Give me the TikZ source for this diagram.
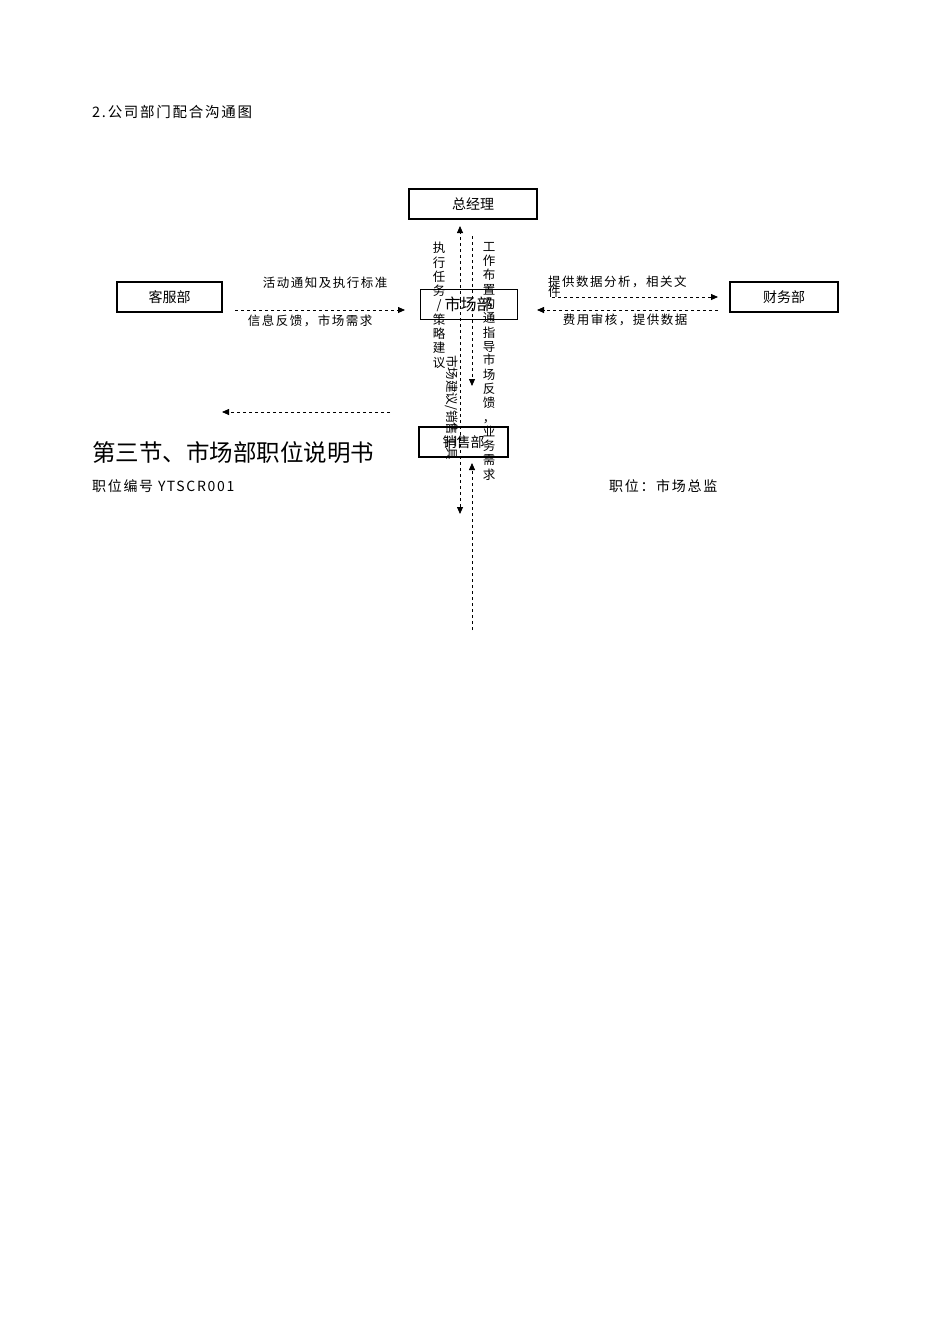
\documentclass[tikz,border=0pt]{standalone}
\usepackage{fontspec}
\setmainfont{Noto Sans CJK SC}
\newfontfamily\spaced[LetterSpace=12]{Noto Sans CJK SC}
\usetikzlibrary{arrows.meta}
\begin{document}
\begin{tikzpicture}[x=1pt,y=-1pt,
  dept/.style={draw,line width=1.5pt,minimum height=30pt,font=\fontsize{14}{14}\selectfont,inner sep=0pt},
  lab/.style={font=\spaced\fontsize{12.5}{12.5}\selectfont,inner sep=0pt},
  vlab/.style={font=\fontsize{12.5}{14.3}\selectfont,inner sep=0pt,align=center},
  dar/.style={dashed,line width=0.8pt,-{Triangle[length=7pt,width=6pt]}}]
\useasboundingbox (0,0) rectangle (950,1344);
\node[anchor=west,font=\spaced\fontsize{14.5}{14.5}\selectfont,inner sep=0pt] (t) at (92,112) {2.公司部门配合沟通图};
\node[dept,minimum width=128pt] (gm) at (473,204) {总经理};
\node[dept,minimum width=105pt] (kf) at (169.5,297) {客服部};
\node[dept,minimum width=97pt,line width=1pt,font=\fontsize{16}{16}\selectfont] (sc) at (468.5,304.5) {市场部};
\node[dept,minimum width=108pt] (cw) at (784,297) {财务部};
\node[dept,minimum width=89pt] (xs) at (463.5,442) {销售部};
\coordinate (a1) at (235,310); \coordinate (a2) at (405,310);
\draw[dar] (a1) -- (a2);
\node[lab] at (325,283) {活动通知及执行标准};
\node[lab] at (310,321) {信息反馈，市场需求};
\coordinate (b1) at (552,297); \coordinate (b2) at (718,297);
\draw[dar] (b1) -- (b2);
\coordinate (c1) at (718,310); \coordinate (c2) at (537,310);
\draw[dar] (c1) -- (c2);
\node[lab,anchor=north west,align=left] at (548,276) {提供数据分析，相关文\\[-3pt]件};
\node[lab] at (625,320) {费用审核，提供数据};
\coordinate (v0) at (460,300); \coordinate (v2) at (460,226); \coordinate (v3) at (460,514);
\draw[dar] (v0) -- (v2);
\draw[dar] (v0) -- (v3);
\coordinate (w1) at (472,236); \coordinate (w2) at (472,386);
\draw[dar] (w1) -- (w2);
\coordinate (w3) at (472,630); \coordinate (w4) at (472,463);
\draw[dar] (w3) -- (w4);
\coordinate (l1) at (390,412); \coordinate (l2) at (222,412);
\draw[dar] (l1) -- (l2);
\node[vlab,anchor=north] at (439,242) {执\\行\\任\\务\\/\\策\\略\\建\\议};
\node[vlab,anchor=north] at (489,242) {工\\作\\布\\置\\沟\\通\\指\\导};
\node[vlab,anchor=north] at (489,354) {市\\场\\反\\馈\\，\\业\\务\\需\\求};
\node[font=\fontsize{12.5}{12.5}\selectfont,inner sep=0pt,rotate=-90,anchor=west] at (452,355) {市场建议/销售工具};
\node[anchor=west,font=\fontsize{23.5}{23.5}\selectfont,inner sep=0pt] at (92,453) {第三节、市场部职位说明书};
\node[anchor=west,font=\spaced\fontsize{14}{14}\selectfont,inner sep=0pt] at (92,486) {职位编号 YTSCR001};
\node[anchor=west,font=\spaced\fontsize{14}{14}\selectfont,inner sep=0pt] at (609,486) {职位：市场总监};
\end{tikzpicture}
\end{document}
